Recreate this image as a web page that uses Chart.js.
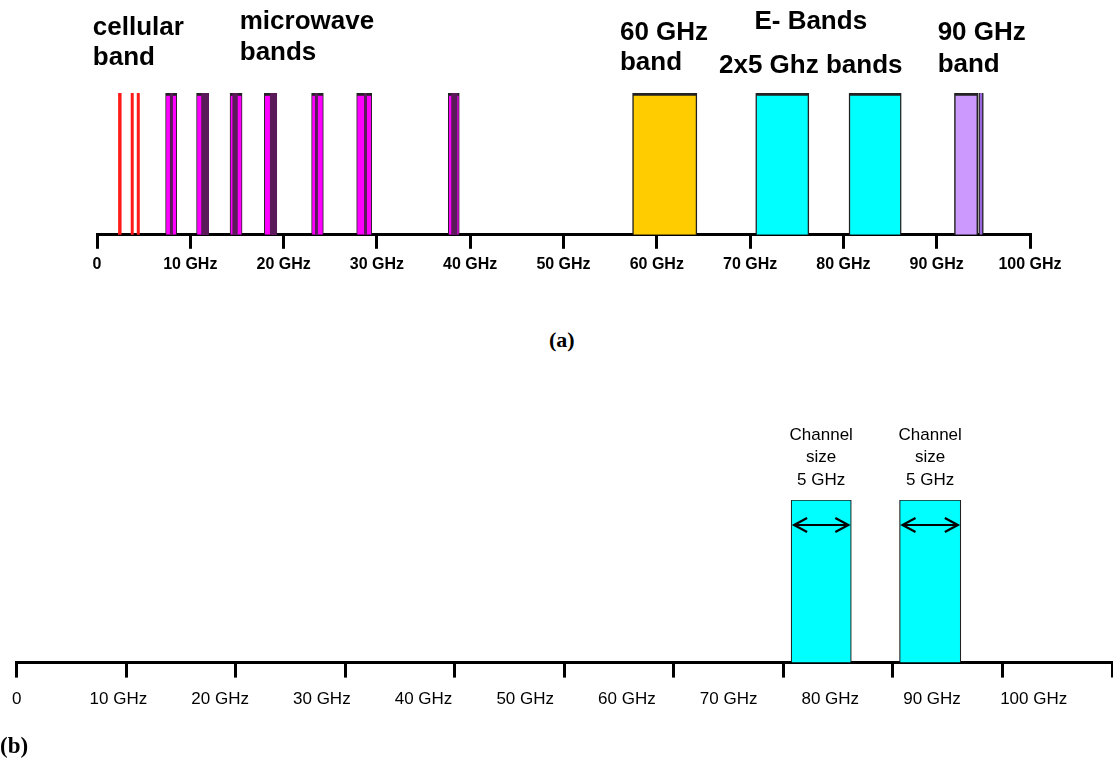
<!DOCTYPE html>
<html>
<head>
<meta charset="utf-8">
<script src="https://cdn.jsdelivr.net/npm/chart.js@4.4.1/dist/chart.umd.min.js"></script>
<style>
  html, body { margin: 0; padding: 0; background: #fff; }
  #page { position: relative; width: 1113px; height: 760px; overflow: hidden; }
  .wrap { position: absolute; left: 0; width: 1113px; }
  #top-wrap { top: 0; height: 290px; }
  #bottom-wrap { top: 400px; height: 360px; }
  .caption { position: absolute; font: bold 22px "Liberation Serif", "Times New Roman", serif; color: #000; }
</style>
</head>
<body>
<div id="page">
  <div class="wrap" id="top-wrap"><canvas id="spectrum-chart"></canvas></div>
  <div class="caption" style="left:549px;top:327px;">(a)</div>
  <div class="wrap" id="bottom-wrap"><canvas id="eband-chart"></canvas></div>
  <div class="caption" style="left:0;top:733px;font-size:23px;">(b)</div>
</div>
<script>
// frequency axis (GHz)
const tickValues = [0, 10, 20, 30, 40, 50, 60, 70, 80, 90, 100];
const tickLabels = ['0', '10 GHz', '20 GHz', '30 GHz', '40 GHz', '50 GHz', '60 GHz', '70 GHz', '80 GHz', '90 GHz', '100 GHz'];

// (a) spectrum allocations, start / end in GHz
const cellularStart = [2.3, 3.65, 4.3];
const cellularEnd = [2.6, 3.9, 4.55];
const microwaveStart = [7.35, 10.67, 14.26, 17.93, 23.0, 27.83, 37.65];
const microwaveEnd = [8.55, 11.96, 15.55, 19.26, 24.26, 29.45, 38.83];
const microwaveDarkStart = [7.85, 11.2, 14.55, 18.57, 23.4, 28.65, 38.0];
const microwaveDarkEnd = [8.1, 11.96, 15.05, 19.26, 23.65, 28.9, 38.6];
const band60Start = [57.4];
const band60End = [64.3];
const eBandStart = [70.6, 80.6];
const eBandEnd = [76.3, 86.2];
const band90Start = [91.9];
const band90End = [94.4];
const band90EdgeStart = [94.5];
const band90EdgeEnd = [95.0];

// (b) E-band channels
const channelStart = [70.7, 80.6];
const channelEnd = [76.2, 86.2];
const channelLabel = ['Channel', 'size', '5 GHz'];

const SANS = '"Liberation Sans", Arial, sans-serif';

const toBars = (starts, ends) => starts.map((s, i) => ({ x: [s, ends[i]], y: 'band' }));

const afterTicks = (axis) => {
  axis.ticks = tickValues.map((v) => ({ value: v }));
};
const tickText = (value, index) => tickLabels[index];

function bandSet(starts, ends, color, border, order) {
  return {
    data: toBars(starts, ends),
    backgroundColor: color,
    borderColor: '#222',
    borderWidth: border,
    borderSkipped: false,
    grouped: false,
    barPercentage: 1,
    categoryPercentage: 1,
    order
  };
}

const topNotes = {
  id: 'topNotes',
  afterDraw(chart) {
    const { ctx, scales: { x } } = chart;
    const notes = [
      { lines: ['cellular', 'band'], at: -0.45, align: 'left', y: [28, 58] },
      { lines: ['microwave', 'bands'], at: 15.3, align: 'left', y: [22, 53] },
      { lines: ['60 GHz', 'band'], at: 56.05, align: 'left', y: [33, 63] },
      { lines: ['E- Bands'], at: 76.5, align: 'center', y: [22] },
      { lines: ['2x5 Ghz bands'], at: 76.5, align: 'center', y: [66] },
      { lines: ['90 GHz', 'band'], at: 90.1, align: 'left', y: [33, 65] }
    ];
    ctx.save();
    ctx.fillStyle = '#000';
    ctx.font = 'bold 26px ' + SANS;
    ctx.textBaseline = 'middle';
    notes.forEach((n) => {
      ctx.textAlign = n.align;
      n.lines.forEach((line, j) => ctx.fillText(line, x.getPixelForValue(n.at), n.y[j]));
    });
    ctx.restore();
  }
};

const channelNotes = {
  id: 'channelNotes',
  afterDatasetsDraw(chart) {
    const { ctx, chartArea, scales: { x } } = chart;
    ctx.save();
    channelStart.forEach((start, i) => {
      const x0 = x.getPixelForValue(start);
      const x1 = x.getPixelForValue(channelEnd[i]);
      const cx = (x0 + x1) / 2;
      ctx.fillStyle = '#000';
      ctx.font = '17px ' + SANS;
      ctx.textAlign = 'center';
      ctx.textBaseline = 'middle';
      channelLabel.forEach((line, j) => ctx.fillText(line, cx, chartArea.top - 65 + j * 22.5));

      const ay = chartArea.top + 25;
      const l = x0 + 3;
      const r = x1 - 3;
      ctx.strokeStyle = '#000';
      ctx.lineWidth = 2.2;
      ctx.beginPath();
      ctx.moveTo(l, ay);
      ctx.lineTo(r, ay);
      ctx.moveTo(l + 13, ay - 7);
      ctx.lineTo(l, ay);
      ctx.lineTo(l + 13, ay + 7);
      ctx.moveTo(r - 13, ay - 7);
      ctx.lineTo(r, ay);
      ctx.lineTo(r - 13, ay + 7);
      ctx.stroke();
    });
    ctx.restore();
  }
};

const mwBorder = { top: 3, left: 1, right: 1, bottom: 0 };
const bandBorder = { top: 3, left: 1.5, right: 1.5, bottom: 0 };

new Chart(document.getElementById('spectrum-chart'), {
  type: 'bar',
  data: {
    labels: ['band'],
    datasets: [
      bandSet(cellularStart, cellularEnd, '#ff1a1a', 0, 0),
      bandSet(microwaveDarkStart, microwaveDarkEnd, '#5a1a5a', 0, 1),
      bandSet(microwaveStart, microwaveEnd, '#ff00ff', mwBorder, 2),
      bandSet(band60Start, band60End, '#ffcc00', bandBorder, 2),
      bandSet(eBandStart, eBandEnd, '#00ffff', bandBorder, 2),
      bandSet(band90Start, band90End, '#cc99ff', bandBorder, 2),
      bandSet(band90EdgeStart, band90EdgeEnd, '#9966dd', { top: 0, left: 1.5, right: 1.5, bottom: 0 }, 2)
    ]
  },
  options: {
    indexAxis: 'y',
    responsive: true,
    maintainAspectRatio: false,
    animation: false,
    layout: { padding: { top: 93, left: 97, right: 83, bottom: 10 } },
    plugins: { legend: { display: false }, tooltip: { enabled: false } },
    scales: {
      x: {
        type: 'linear',
        min: 0,
        max: 100,
        afterBuildTicks: afterTicks,
        grid: { drawOnChartArea: false, drawTicks: true, tickLength: 14, color: '#000', lineWidth: 3 },
        border: { display: true, color: '#000', width: 3 },
        ticks: {
          callback: tickText,
          color: '#000',
          font: { family: SANS, size: 16, weight: 'bold' },
          padding: 6,
          maxRotation: 0,
          autoSkip: false
        }
      },
      y: { type: 'category', display: false, offset: true }
    }
  },
  plugins: [topNotes]
});

new Chart(document.getElementById('eband-chart'), {
  type: 'bar',
  data: {
    labels: ['band'],
    datasets: [
      bandSet(channelStart, channelEnd, '#00ffff', { top: 1.2, left: 1.2, right: 1.2, bottom: 0 }, 0)
    ]
  },
  options: {
    indexAxis: 'y',
    responsive: true,
    maintainAspectRatio: false,
    animation: false,
    layout: { padding: { top: 100, left: 16.5, right: 1, bottom: 38 } },
    plugins: { legend: { display: false }, tooltip: { enabled: false } },
    scales: {
      x: {
        type: 'linear',
        min: 0,
        max: 100,
        weight: 0,
        afterBuildTicks: afterTicks,
        grid: { drawOnChartArea: false, drawTicks: true, tickLength: 15, color: '#000', lineWidth: 3 },
        border: { display: true, color: '#000', width: 3 },
        ticks: { display: false }
      },
      xLabels: {
        type: 'linear',
        position: 'bottom',
        axis: 'x',
        min: 0,
        max: 107.7,
        weight: 1,
        afterBuildTicks: afterTicks,
        grid: { display: false, drawTicks: false },
        border: { display: false },
        ticks: {
          callback: tickText,
          color: '#000',
          font: { family: SANS, size: 17 },
          padding: 12,
          maxRotation: 0,
          autoSkip: false
        }
      },
      y: { type: 'category', display: false, offset: true }
    }
  },
  plugins: [channelNotes]
});
</script>
</body>
</html>
